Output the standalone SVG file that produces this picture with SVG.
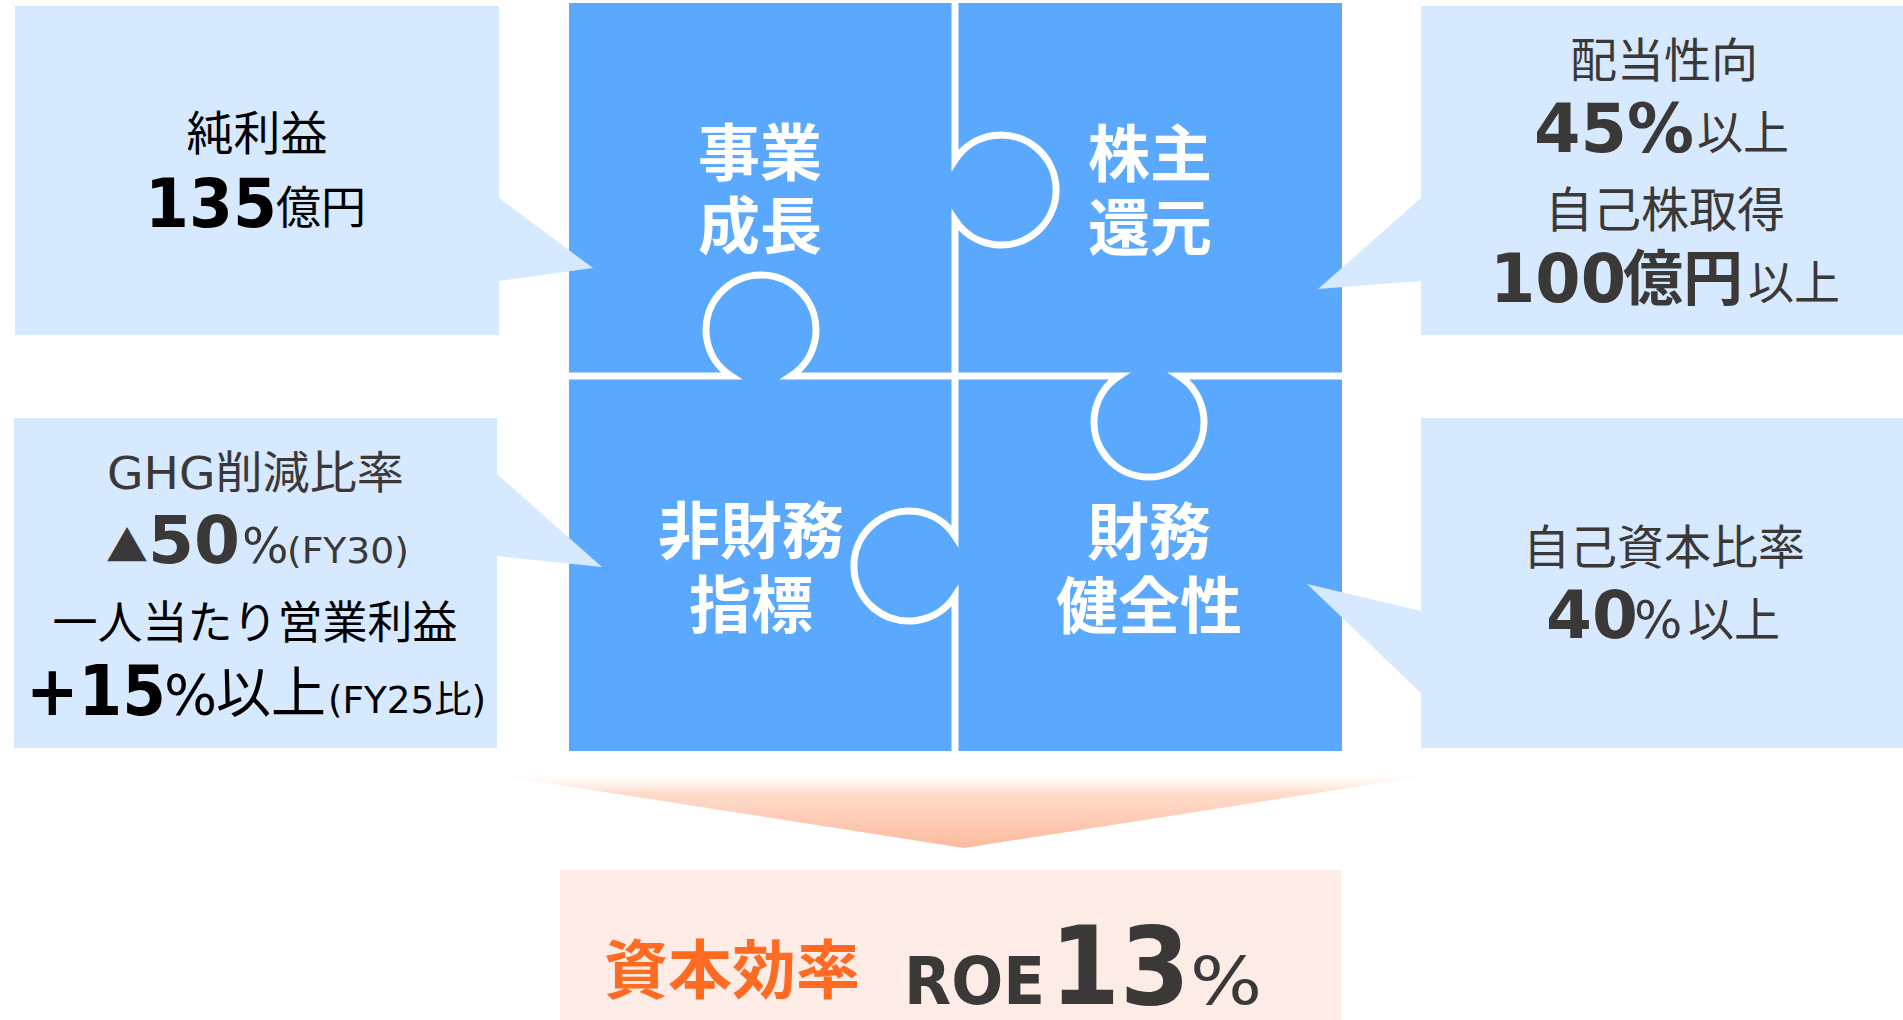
<svg xmlns="http://www.w3.org/2000/svg" width="1903" height="1020" viewBox="0 0 1903 1020">
<defs>
<linearGradient id="arrowGrad" gradientUnits="userSpaceOnUse" x1="0" y1="771" x2="0" y2="848">
<stop offset="0" stop-color="#FFFFFF" stop-opacity="0"/>
<stop offset="0.28" stop-color="#FFDCCB"/>
<stop offset="1" stop-color="#FBBA9E"/>
</linearGradient>
<style>
.callout{fill:#D6E9FE;}
.piece{fill:#5AA9FE;}
.seam{fill:none;stroke:#FFFFFF;stroke-width:7;}
.jp{font-family:"Noto Sans CJK JP",sans-serif;}
.mix{font-family:"DejaVu Sans","Noto Sans CJK JP",sans-serif;}
.num{font-family:"DejaVu Sans","Liberation Sans",sans-serif;font-weight:bold;}
.lat{font-family:"DejaVu Sans","Liberation Sans",sans-serif;}
.title{font-family:"Noto Sans CJK JP",sans-serif;font-weight:bold;font-size:62px;fill:#FFFFFF;text-anchor:middle;}
.blk{fill:#000000;}
.gry{fill:#3B3838;}
</style>
</defs>

<g id="puzzle">
<rect class="piece" x="569" y="3" width="773" height="748"/>
</g>

<g id="connectors">
<path class="seam" d="M955,0 V160 A55,55 0 1 1 955,220 V376"/>
<path class="seam" d="M566,376 H731 A55,55 0 1 1 791,376 H955"/>
<path class="seam" d="M955,376 H1119 A55,55 0 1 0 1179,376 H1345"/>
<path class="seam" d="M955,376 V536 A55,55 0 1 0 955,596 V754"/>
<polygon points="470,771 1458,771 964,848" fill="url(#arrowGrad)"/>
</g>

<g id="piece-business-growth">
<text class="title" x="760" y="176">事業</text>
<text class="title" x="760" y="249">成長</text>
</g>
<g id="piece-shareholder-return">
<text class="title" x="1150" y="177">株主</text>
<text class="title" x="1150" y="251">還元</text>
</g>
<g id="piece-nonfinancial">
<text class="title" x="751" y="554">非財務</text>
<text class="title" x="751" y="628">指標</text>
</g>
<g id="piece-financial-health">
<text class="title" x="1149" y="555">財務</text>
<text class="title" x="1149" y="629">健全性</text>
</g>

<g id="callout-net-income">
<path class="callout" d="M15,6 H499 V198 L593,268 L499,281 V335 H15 Z"/>
<text class="jp blk" x="257" y="150" font-size="47" text-anchor="middle">純利益</text>
<text class="num blk" x="145" y="227" font-size="67" textLength="132" lengthAdjust="spacingAndGlyphs">135</text>
<text class="jp blk" x="276" y="224" font-size="45">億円</text>
</g>

<g id="callout-shareholder">
<path class="callout" d="M1421,6 H1903 V335 H1421 V281 L1318,289 L1421,198 Z"/>
<text class="jp gry" x="1664" y="77" font-size="47" text-anchor="middle">配当性向</text>
<text class="num gry" x="1534" y="152" font-size="67" textLength="160" lengthAdjust="spacingAndGlyphs">45%</text>
<text class="jp gry" x="1697" y="149" font-size="46">以上</text>
<text class="jp gry" x="1665" y="227" font-size="48" text-anchor="middle">自己株取得</text>
<text class="num gry" x="1490" y="302" font-size="67" textLength="136" lengthAdjust="spacingAndGlyphs">100</text>
<text class="jp gry" x="1623" y="300" font-size="60" font-weight="bold">億円</text>
<text class="jp gry" x="1748" y="299" font-size="46">以上</text>
</g>

<g id="callout-nonfinancial">
<path class="callout" d="M14,418 H497 V474 L602,567 L497,556 V748 H14 Z"/>
<text class="mix gry" x="107" y="489" font-size="45" textLength="297" lengthAdjust="spacingAndGlyphs">GHG削減比率</text>
<text class="jp gry" x="106" y="562" font-size="42">▲</text>
<text class="num gry" x="148" y="563" font-size="66" textLength="92" lengthAdjust="spacingAndGlyphs">50</text>
<text class="lat gry" x="242" y="563" font-size="49">%</text>
<text class="mix gry" x="287" y="563" font-size="36" textLength="122" lengthAdjust="spacingAndGlyphs">(FY30)</text>
<text class="jp blk" x="255" y="639" font-size="45" text-anchor="middle">一人当たり営業利益</text>
<text class="num blk" x="26" y="715" font-size="69" textLength="140" lengthAdjust="spacingAndGlyphs">+15</text>
<text class="lat blk" x="164" y="714" font-size="56">%</text>
<text class="jp blk" x="216" y="712" font-size="55">以上</text>
<text class="mix blk" x="328" y="713" font-size="37" textLength="158" lengthAdjust="spacingAndGlyphs">(FY25比)</text>
</g>

<g id="callout-financial">
<path class="callout" d="M1421,418 H1903 V748 H1421 V693 L1307,584 L1421,611 Z"/>
<text class="jp gry" x="1664" y="564" font-size="47" text-anchor="middle">自己資本比率</text>
<text class="num gry" x="1546" y="638" font-size="66">40</text>
<text class="lat gry" x="1634" y="638" font-size="51">%</text>
<text class="jp gry" x="1688" y="636" font-size="46">以上</text>
</g>

<g id="result-roe">
<rect x="560" y="870" width="781" height="160" fill="#FDECE6"/>
<text class="jp" x="604" y="993" font-size="64" font-weight="bold" fill="#FF6B22">資本効率</text>
<text class="num gry" x="904" y="1004" font-size="65" textLength="141" lengthAdjust="spacingAndGlyphs">ROE</text>
<text class="num gry" x="1050" y="1004" font-size="108" textLength="140" lengthAdjust="spacingAndGlyphs">13</text>
<text class="lat gry" x="1190" y="1004" font-size="66" textLength="72" lengthAdjust="spacingAndGlyphs">%</text>
</g>
</svg>
